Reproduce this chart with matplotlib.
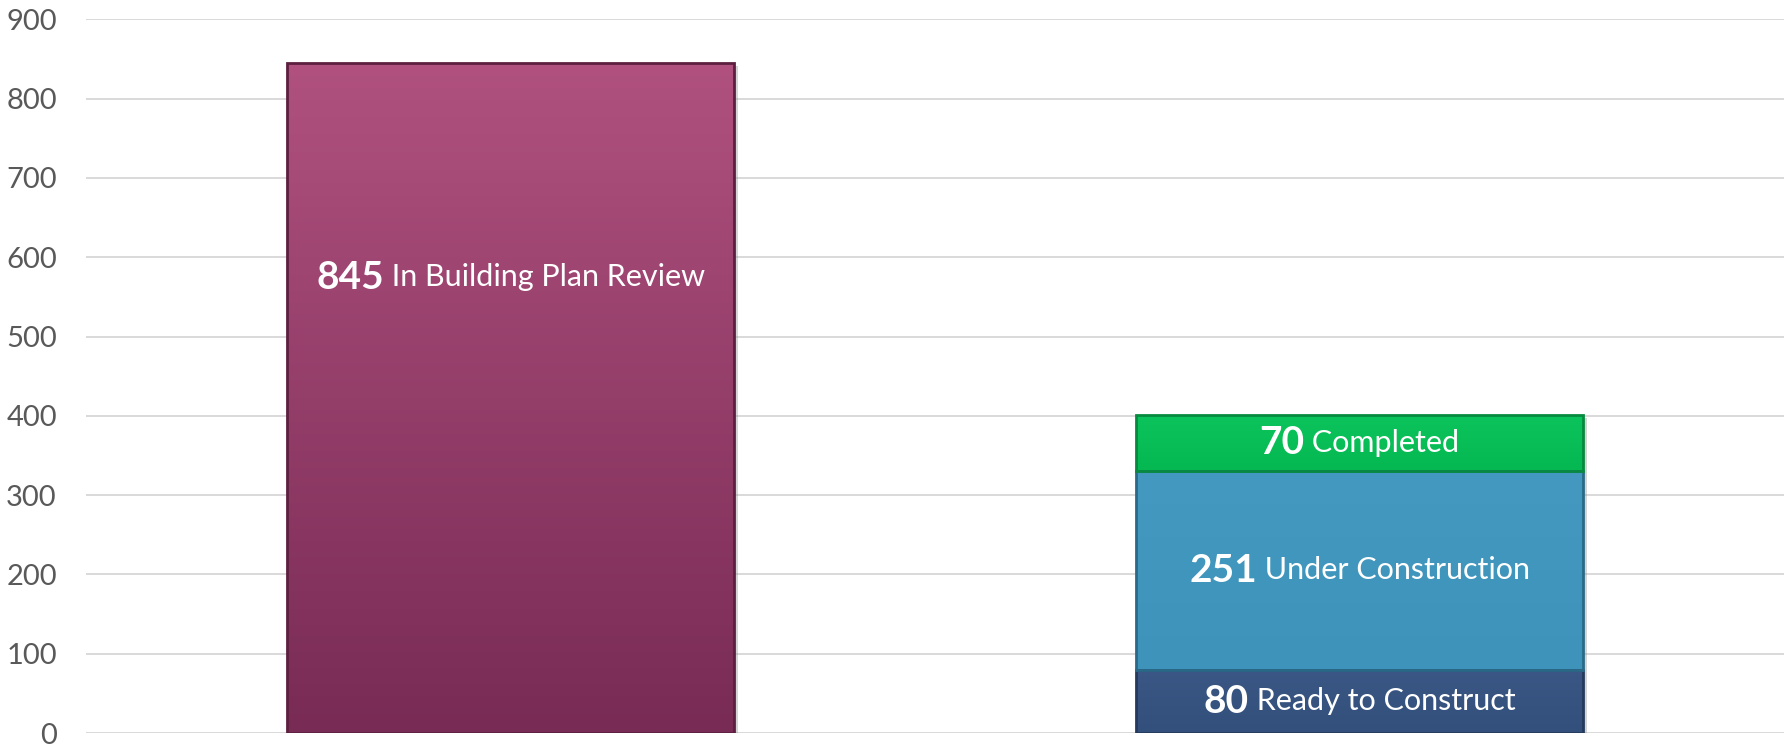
import matplotlib
matplotlib.use("Agg")
import matplotlib.pyplot as plt
import matplotlib.patheffects as pe
from matplotlib.colors import LinearSegmentedColormap
from matplotlib.transforms import offset_copy
import numpy as np

plt.rcParams["font.family"] = ["Lato", "DejaVu Sans"]

# datos
cats = [0, 1]
review = [845, 0]
ready = [0, 80]
under = [0, 251]
completed = [0, 70]
yticks = [0, 100, 200, 300, 400, 500, 600, 700, 800, 900]

stack_vals = [ready[1], under[1], completed[1]]
stack_names = ["Ready to Construct", "Under Construction", "Completed"]
stack_cols = [("#3a5785", "#33507c"), ("#4399c0", "#3d93b9"), ("#0cc45c", "#05b851")]
stack_edges = ["#253a5c", "#2a6a88", "#078a3f"]

fig = plt.figure(figsize=(17.87, 7.44), dpi=100)
ax = fig.add_axes([86 / 1787, 1 - 733 / 744, (1784 - 86) / 1787, (733 - 19.4) / 744])
ax.set_xlim(-0.5, 1.5)
ax.set_ylim(0, 900)
ax.set_yticks(yticks)
ax.set_xticks([])
ax.yaxis.grid(True, color="#d9d9d9", lw=1.4)
ax.set_axisbelow(True)
for s in ax.spines.values():
    s.set_visible(False)
ax.tick_params(axis="y", length=0, pad=21, labelsize=21, labelcolor="#595959")

w = 0.527
sombra = [pe.SimplePatchShadow(offset=(3, -2), shadow_rgbFace="#888888", alpha=0.35), pe.Normal()]


def degradado(patch, top, bot):
    x0, y0 = patch.get_x(), patch.get_y()
    x1, y1 = x0 + patch.get_width(), y0 + patch.get_height()
    cmap = LinearSegmentedColormap.from_list("g", [bot, top])
    im = ax.imshow(np.linspace(0, 1, 256).reshape(-1, 1), cmap=cmap, origin="lower",
                   extent=(x0, x1, y0, y1), aspect="auto", zorder=2.1)
    im.set_clip_path(patch)


# barra 1
b = ax.bar(cats[0], review[0], w, color="#96406c", lw=0, zorder=2)[0]
b.set_path_effects(sombra)
degradado(b, "#b0517f", "#782b55")
ax.bar(cats[0], review[0], w, fill=False, edgecolor="#5c1f40", lw=2, zorder=3)

# barra 2 apilada
base = 0
for v, (ct, cb), ec in zip(stack_vals, stack_cols, stack_edges):
    p = ax.bar(cats[1], v, w, bottom=base, color=ct, lw=0, zorder=2)[0]
    p.set_path_effects(sombra)
    degradado(p, ct, cb)
    ax.bar(cats[1], v, w, bottom=base, fill=False, edgecolor=ec, lw=2, zorder=3)
    base += v
ax.set_ylim(0, 900)
ax.set_xlim(-0.5, 1.5)


def etiqueta(x, y, num, txt, big=28, small=22):
    t1 = ax.text(x, y, str(num), fontsize=big, fontweight="bold", color="white",
                 ha="left", va="center", zorder=5)
    t2 = ax.text(x, y, " " + txt, fontsize=small, color="white",
                 ha="left", va="center", zorder=5)
    fig.canvas.draw()
    r = fig.canvas.get_renderer()
    w1 = t1.get_window_extent(r).width
    w2 = t2.get_window_extent(r).width
    tot = w1 + w2
    k = 72 / fig.dpi
    t1.set_transform(offset_copy(ax.transData, fig=fig, x=-tot / 2 * k, y=0, units="points"))
    t2.set_transform(offset_copy(ax.transData, fig=fig, x=(-tot / 2 + w1) * k, y=0, units="points"))


etiqueta(cats[0], 575, review[0], "In Building Plan Review")
base = 0
for v, n in zip(stack_vals, stack_names):
    etiqueta(cats[1], base + v / 2, v, n)
    base += v

fig.savefig("out.png", dpi=100)
